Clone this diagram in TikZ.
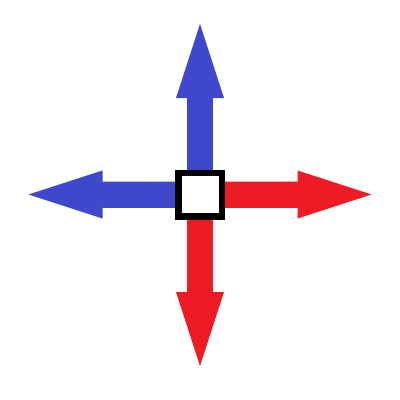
\documentclass[tikz,border=0pt]{standalone}
\usetikzlibrary{arrows.meta,calc}
\definecolor{pblue}{RGB}{63,72,204}
\definecolor{pred}{RGB}{237,28,36}
\tikzset{
  bigarrow/.style={line width=26pt, -{Triangle[length=74pt,width=48pt,line width=0pt]}},
  shaft/.style={line width=26pt},
  box/.style={draw=black, fill=white, line width=6.5pt, minimum width=43.5pt, minimum height=43.5pt, inner sep=0pt, outer sep=0pt}
}
\begin{document}
\begin{tikzpicture}[x=1pt,y=-1pt]
\useasboundingbox (0,0) rectangle (400,400);
\fill[white] (0,0) rectangle (400,400);
\coordinate (c) at (200,194.5);
\coordinate (tu) at (200,24);
\coordinate (tl) at (28.5,194.5);
\coordinate (tr) at (371.5,194.5);
\coordinate (td) at (200,366);
\draw[bigarrow, pblue] (c) -- (tu);
\draw[shaft, pblue] (c) -- ($(c)!0.7!(tu)$);
\draw[bigarrow, pblue] (c) -- (tl);
\draw[shaft, pblue] (c) -- ($(c)!0.7!(tl)$);
\draw[bigarrow, pred] (c) -- (tr);
\draw[shaft, pred] (c) -- ($(c)!0.7!(tr)$);
\draw[bigarrow, pred] (c) -- (td);
\draw[shaft, pred] (c) -- ($(c)!0.7!(td)$);
\node[box] (sq) at (c) {};
\end{tikzpicture}
\end{document}
